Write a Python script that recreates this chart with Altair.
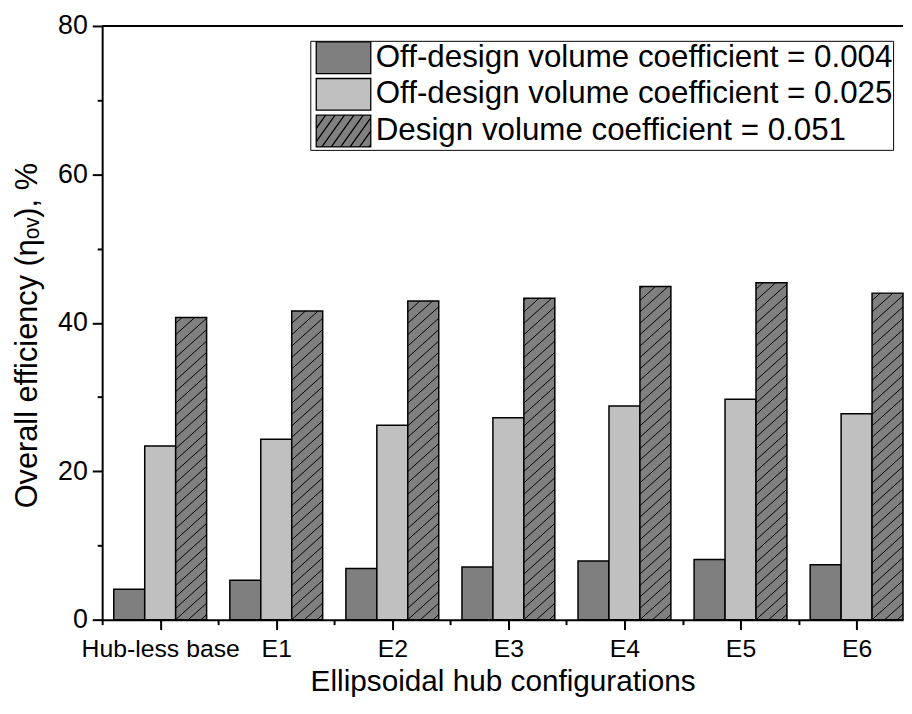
import json
import pandas as pd
import altair as alt

categories = ["Hub-less base", "E1", "E2", "E3", "E4", "E5", "E6"]
series_names = [
    "Off-design volume coefficient = 0.004",
    "Off-design volume coefficient = 0.025",
    "Design volume coefficient = 0.051",
]
eff_004 = [4.1, 5.3, 6.9, 7.1, 7.9, 8.1, 7.4]
eff_025 = [23.4, 24.3, 26.2, 27.2, 28.8, 29.7, 27.75]
eff_051 = [40.7, 41.6, 42.95, 43.3, 44.9, 45.4, 44.0]
fills = ["#7f7f7f", "#c0c0c0", "#808080"]
strokes = ["black", "black", "black"]

rows = []
for s, vals in enumerate([eff_004, eff_025, eff_051]):
    for i, (c, v) in enumerate(zip(categories, vals)):
        rows.append({"cat": c, "idx": i, "s": s, "series": series_names[s], "value": v})
df = pd.DataFrame(rows)

W, H = 808, 599
XMIN, XMAX = -0.5, 6.4
YMAX = 80
BW = 0.8 / 3
kx = W / (XMAX - XMIN)
ky = H / YMAX
slope_px = 0.9
rise = BW * kx * slope_px / ky
spacing = 11.5 / ky

FONT = "Liberation Sans"

# legend swatch paths (unit = 16 px)
def swatch(hatch):
    hw, hh = 27.5, 16.0
    p = f"M{-hw/16:.3f},{-hh/16:.3f}L{hw/16:.3f},{-hh/16:.3f}L{hw/16:.3f},{hh/16:.3f}L{-hw/16:.3f},{hh/16:.3f}Z"
    if hatch:
        m = 1.4
        segs = []
        c = -hw - 2 * hh / m
        while c < hw + 2 * hh / m:
            x_b = c
            x_t = c + 2 * hh / m
            y_b, y_t = hh, -hh
            if x_b < -hw:
                y_b = hh - (-hw - c) * m
                x_b = -hw
            if x_t > hw:
                y_t = hh - (hw - c) * m
                x_t = hw
            if x_t > x_b and y_b > y_t:
                segs.append(f"M{x_b/16:.3f},{y_b/16:.3f}L{x_t/16:.3f},{y_t/16:.3f}")
            c += 9.5
        p += "".join(segs)
    return p

shapes = [swatch(False), swatch(False), swatch(True)]

xscale = alt.Scale(domain=[XMIN, XMAX], nice=False, zero=False)
yscale = alt.Scale(domain=[0, YMAX], nice=False)

xvals = [-0.5 + 0.5 * k for k in range(14)]
xaxis = alt.Axis(
    title="Ellipsoidal hub configurations",
    values=xvals,
    labelExpr=f"datum.value % 1 == 0 ? {json.dumps(categories)}[datum.value] : ''",
    tickSize={"condition": {"test": "datum.value % 1 == 0", "value": 10}, "value": 5},
    grid=False,
    domainColor="black",
    domainWidth=2,
    tickColor="black",
    tickWidth=2,
    labelFont=FONT,
    labelFontSize=25,
    labelColor="black",
    labelPadding=7,
    labelFlush=False,
    labelOverlap=False,
    titleFont=FONT,
    titleFontSize=30,
    titleFontWeight="normal",
    titleColor="black",
    titlePadding=5,
)
yaxis = alt.Axis(
    title="Overall efficiency (ηₒᵥ), %",
    values=[0, 10, 20, 30, 40, 50, 60, 70, 80],
    labelExpr="datum.value % 20 == 0 ? datum.label : ''",
    tickSize={"condition": {"test": "datum.value % 20 == 0", "value": 10}, "value": 5},
    grid=False,
    domainColor="black",
    domainWidth=2,
    tickColor="black",
    tickWidth=2,
    labelFont=FONT,
    labelFontSize=27,
    labelColor="black",
    labelPadding=5,
    labelFlush=False,
    titleFont=FONT,
    titleFontSize=31,
    titleFontWeight="normal",
    titleColor="black",
    titlePadding=14,
    titleY=312,
)

legend = alt.Legend(
    title=None,
    orient="none",
    legendX=210,
    legendY=15,
    symbolSize=1024,
    symbolOffset=16.5,
    symbolStrokeColor="black",
    symbolStrokeWidth=1.3,
    symbolOpacity=1,
    labelFont=FONT,
    labelFontSize=31.6,
    labelColor="black",
    labelLimit=1000,
    labelOffset=15.5,
    rowPadding=-1,
    padding=0,
    strokeColor="black",
    fillColor="white",
)

fill_scale = alt.Scale(domain=series_names, range=fills)
stroke_scale = alt.Scale(domain=series_names, range=strokes)

base = alt.Chart(df).transform_calculate(
    xl=f"datum.idx - 0.4 + datum.s * {BW}",
    xr=f"datum.xl + {BW}",
)

bars = base.mark_bar(strokeWidth=1.5).encode(
    x=alt.X("xl:Q", scale=xscale, axis=xaxis),
    x2="xr:Q",
    y=alt.Y("value:Q", scale=yscale, axis=yaxis),
    y2=alt.datum(0),
    fill=alt.Fill("series:N", scale=fill_scale, legend=legend),
    stroke=alt.Stroke("series:N", scale=stroke_scale, legend=legend),
)

legend_pts = base.mark_point(filled=True, opacity=0, strokeWidth=1.3).encode(
    x=alt.X("xl:Q", scale=xscale, axis=xaxis),
    y=alt.Y("value:Q", scale=yscale, axis=yaxis),
    fill=alt.Fill("series:N", scale=fill_scale, legend=legend),
    stroke=alt.Stroke("series:N", scale=stroke_scale, legend=legend),
    shape=alt.Shape("series:N", scale=alt.Scale(domain=series_names, range=shapes), legend=legend),
)

hatch = (
    base.transform_filter("datum.s == 2")
    .transform_calculate(k="sequence(-4, 50)")
    .transform_flatten(["k"])
    .transform_calculate(
        y0=f"datum.k * {spacing}",
        y1=f"datum.y0 + {rise}",
        ys="max(datum.y0, 0)",
        ye="min(datum.y1, datum.value)",
        xs=f"datum.xl + (datum.ys - datum.y0) / {rise} * {BW}",
        xe=f"datum.xl + (datum.ye - datum.y0) / {rise} * {BW}",
    )
    .transform_filter("datum.ye > datum.ys")
    .mark_rule(color="black", strokeWidth=1)
    .encode(
        x=alt.X("xs:Q", scale=xscale, axis=xaxis),
        x2="xe:Q",
        y=alt.Y("ys:Q", scale=yscale, axis=yaxis),
        y2="ye:Q",
    )
)

top_line = alt.Chart(alt.Data(values=[{"a": 1}])).mark_rule(color="black", strokeWidth=2).encode(
    x=alt.value(0), x2=alt.value(W), y=alt.value(0)
)

chart = (
    alt.layer(bars, hatch, legend_pts, top_line)
    .properties(
        width=W,
        height=H,
        autosize=alt.AutoSizeParams(type="none"),
        padding={"left": 95, "top": 15, "right": 1, "bottom": 84},
        background="white",
    )
    .configure_view(strokeWidth=0)
)

chart.save("out.html", embed_options={"renderer": "svg", "actions": False})
